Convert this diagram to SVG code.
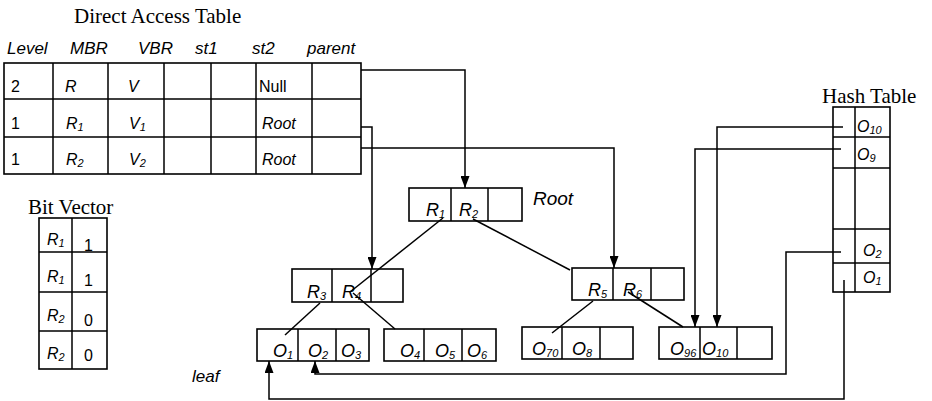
<svg xmlns="http://www.w3.org/2000/svg" width="932" height="401" viewBox="0 0 932 401">
<style>
.box{fill:#fff;stroke:#000;stroke-width:1.6}
.ln{fill:none;stroke:#000;stroke-width:1.5}
.ttl{font-family:"Liberation Serif","Times New Roman",serif;font-size:21px;fill:#000}
.t{font-family:"Liberation Sans",Arial,sans-serif;font-size:16px;fill:#000}
.i{font-style:italic}
.n{font-family:"Liberation Sans",Arial,sans-serif;font-size:18px;font-style:italic;fill:#000}
.s{font-size:11px}
.hd{font-family:"Liberation Sans",Arial,sans-serif;font-size:17px;font-style:italic;fill:#000}
</style>
<defs>
<marker id="arr" viewBox="0 0 10 10" refX="10" refY="5" markerWidth="12" markerHeight="9" markerUnits="userSpaceOnUse" orient="auto" preserveAspectRatio="none">
<path d="M0,0 L10,5 L0,10 z" fill="#000"/>
</marker>
</defs>
<rect width="932" height="401" fill="#fff"/>

<g id="direct-access-table">
<text class="ttl" x="74" y="23">Direct Access Table</text>
<text class="hd" x="7" y="54">Level</text>
<text class="hd" x="70" y="54">MBR</text>
<text class="hd" x="138" y="54">VBR</text>
<text class="hd" x="195" y="54">st1</text>
<text class="hd" x="252" y="54">st2</text>
<text class="hd" x="307" y="54">parent</text>
<rect class="box" x="4" y="63" width="357" height="111"/>
<path class="ln" d="M4,99H361M4,137H361M53,63V174M108,63V174M164,63V174M211,63V174M256,63V174M312,63V174"/>
<text class="t" x="11" y="92">2</text>
<text class="t i" x="65" y="92">R</text>
<text class="t i" x="128" y="92">V</text>
<text class="t" x="259" y="92">Null</text>
<text class="t" x="11" y="129">1</text>
<text class="t i" x="66" y="129">R<tspan class="s" dy="2">1</tspan></text>
<text class="t i" x="129" y="129">V<tspan class="s" dy="2">1</tspan></text>
<text class="t i" x="262" y="129">Root</text>
<text class="t" x="11" y="165">1</text>
<text class="t i" x="66" y="165">R<tspan class="s" dy="2">2</tspan></text>
<text class="t i" x="129" y="165">V<tspan class="s" dy="2">2</tspan></text>
<text class="t i" x="262" y="165">Root</text>
</g>

<g id="bit-vector">
<text class="ttl" x="28" y="214">Bit Vector</text>
<rect class="box" x="39" y="218" width="68" height="151"/>
<path class="ln" d="M39,252H107M39,292H107M39,331H107M72,218V369"/>
<text class="t i" x="47" y="245">R<tspan class="s" dy="2">1</tspan></text>
<text class="t" x="84" y="251">1</text>
<text class="t i" x="47" y="282">R<tspan class="s" dy="2">1</tspan></text>
<text class="t" x="84" y="286">1</text>
<text class="t i" x="47" y="321">R<tspan class="s" dy="2">2</tspan></text>
<text class="t" x="84" y="326">0</text>
<text class="t i" x="47" y="359">R<tspan class="s" dy="2">2</tspan></text>
<text class="t" x="84" y="361">0</text>
</g>

<g id="hash-table">
<text class="ttl" x="822" y="103">Hash Table</text>
<rect class="box" x="833" y="107" width="57" height="185"/>
<path class="ln" d="M833,137H890M833,168H890M833,229H890M833,263H890M855,107V292"/>
<text class="t i" x="857" y="132">O<tspan class="s" dy="2">10</tspan></text>
<text class="t i" x="857" y="160">O<tspan class="s" dy="2">9</tspan></text>
<text class="t i" x="863" y="256">O<tspan class="s" dy="2">2</tspan></text>
<text class="t i" x="863" y="283">O<tspan class="s" dy="2">1</tspan></text>
</g>

<g id="root">
<rect class="box" x="409" y="188" width="113" height="33"/>
<path class="ln" d="M451,188V221M488,188V221"/>
<text class="n" x="426" y="216">R<tspan class="s" dy="2">1</tspan></text>
<text class="n" x="459" y="216">R<tspan class="s" dy="2">2</tspan></text>
<text class="hd" x="533" y="205" style="font-size:19px">Root</text>
</g>

<g id="node-r3r4">
<rect class="box" x="292" y="269" width="111" height="33"/>
<path class="ln" d="M332,269V302M371,269V302"/>
<text class="n" x="307" y="298">R<tspan class="s" dy="2">3</tspan></text>
<text class="n" x="342" y="298">R<tspan class="s" dy="2">4</tspan></text>
</g>

<g id="node-r5r6">
<rect class="box" x="572" y="268" width="112" height="32"/>
<path class="ln" d="M613,268V300M651,268V300"/>
<text class="n" x="588" y="296">R<tspan class="s" dy="2">5</tspan></text>
<text class="n" x="623" y="296">R<tspan class="s" dy="2">6</tspan></text>
</g>

<g id="leaf-o1o2o3">
<rect class="box" x="257" y="329" width="112" height="32"/>
<path class="ln" d="M298,329V361M336,329V361"/>
<text class="n" x="273" y="357">O<tspan class="s" dy="2">1</tspan></text>
<text class="n" x="308" y="357">O<tspan class="s" dy="2">2</tspan></text>
<text class="n" x="341" y="357">O<tspan class="s" dy="2">3</tspan></text>
</g>

<g id="leaf-o4o5o6">
<rect class="box" x="384" y="329" width="112" height="32"/>
<path class="ln" d="M424,329V361M462,329V361"/>
<text class="n" x="400" y="357">O<tspan class="s" dy="2">4</tspan></text>
<text class="n" x="435" y="357">O<tspan class="s" dy="2">5</tspan></text>
<text class="n" x="467" y="357">O<tspan class="s" dy="2">6</tspan></text>
</g>

<g id="leaf-o70o8">
<rect class="box" x="522" y="327" width="111" height="32"/>
<path class="ln" d="M562,327V359M600,327V359"/>
<text class="n" x="532" y="355">O<tspan class="s" dy="2">70</tspan></text>
<text class="n" x="572" y="355">O<tspan class="s" dy="2">8</tspan></text>
</g>

<g id="leaf-o96o10">
<rect class="box" x="659" y="327" width="113" height="32"/>
<path class="ln" d="M700,327V359M737,327V359"/>
<text class="n" x="670" y="355">O<tspan class="s" dy="2">96</tspan></text>
<text class="n" x="702" y="355">O<tspan class="s" dy="2">10</tspan></text>
</g>

<g id="leaf-label">
<text class="hd" x="192" y="382">leaf</text>
</g>

<g id="connectors">
<path class="ln" d="M361,70H465V188" marker-end="url(#arr)"/>
<path class="ln" d="M361,127H372V269" marker-end="url(#arr)"/>
<path class="ln" d="M361,148H614V268" marker-end="url(#arr)"/>
<path class="ln" d="M443,218L350,292"/>
<path class="ln" d="M473,219L570,270"/>
<path class="ln" d="M320,303L285,335"/>
<path class="ln" d="M353,293L395,329"/>
<path class="ln" d="M593,301L552,333"/>
<path class="ln" d="M628,292L683,327"/>
<path class="ln" d="M843,127H717V327" marker-end="url(#arr)"/>
<path class="ln" d="M841,149H695V327" marker-end="url(#arr)"/>
<path class="ln" d="M841,252H786V374H315V361" marker-end="url(#arr)"/>
<path class="ln" d="M844,280V399H269V361" marker-end="url(#arr)"/>
</g>
</svg>
